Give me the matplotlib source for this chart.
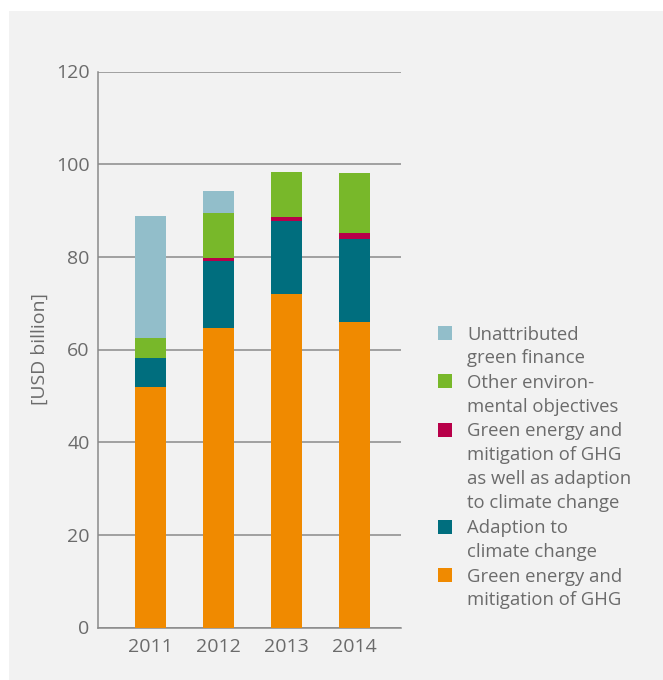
import numpy as np
import matplotlib
matplotlib.use("Agg")
import matplotlib.pyplot as plt
from matplotlib.patches import Rectangle

plt.rcParams["font.family"] = ["Open Sans", "DejaVu Sans"]

years = ["2011", "2012", "2013", "2014"]

# USD billion per category, stacked bottom to top
green_energy = [51.9, 64.6, 72.0, 65.9]
adaption = [6.3, 14.4, 15.7, 18.0]
energy_and_adaption = [0.0, 0.8, 0.9, 1.3]
other_env = [4.3, 9.7, 9.7, 12.9]
unattributed = [26.3, 4.7, 0.0, 0.0]

series = [green_energy, adaption, energy_and_adaption, other_env, unattributed]
colors = ["#F08A00", "#006E7E", "#B80049", "#78B82A", "#92BECA"]

# legend entries, top to bottom
legend_labels = [
    "Unattributed\ngreen finance",
    "Other environ-\nmental objectives",
    "Green energy and\nmitigation of GHG\nas well as adaption\nto climate change",
    "Adaption to\nclimate change",
    "Green energy and\nmitigation of GHG",
]
legend_colors = colors[::-1]

text_color = "#6b6b6b"
W, H = 663, 680

fig = plt.figure(figsize=(W / 100, H / 100), dpi=100, facecolor="white")
fig.patches.append(Rectangle((9 / W, 0), 1, 1 - 11 / H, transform=fig.transFigure,
                             facecolor="#F2F2F2", edgecolor="none", zorder=-10))

ax = fig.add_axes([98 / W, 52.5 / H, 303 / W, 556 / H])
ax.set_facecolor("none")

x = np.arange(len(years))
bottom = np.zeros(len(years))
for vals, c in zip(series, colors):
    ax.bar(x, vals, width=0.456, bottom=bottom, color=c, zorder=3)
    bottom += np.array(vals)

ax.set_xlim(-0.772, 3.684)
ax.set_ylim(0, 120)
ax.set_yticks(range(0, 121, 20))
ax.set_xticks(x)
ax.set_xticklabels(years)
ax.yaxis.grid(True, color="#8a8a8a", linewidth=1.1, zorder=0)

for side in ["top", "right"]:
    ax.spines[side].set_visible(False)
for side in ["left", "bottom"]:
    ax.spines[side].set_color("#8a8a8a")
    ax.spines[side].set_linewidth(1.1)

ax.tick_params(axis="both", length=0, labelsize=14, colors=text_color)
ax.tick_params(axis="y", pad=6)
ax.tick_params(axis="x", pad=7.5)

fig.text(40 / W, 1 - 349 / H, "[USD billion]", rotation=90, ha="center", va="center",
         fontsize=14, color=text_color)

# legend drawn by hand so the wrapped lines sit like the source layout
line_h = 24.2
line_idx = 0
for label, c in zip(legend_labels, legend_colors):
    yc = 333 + line_idx * line_h
    fig.patches.append(Rectangle((438 / W, 1 - (yc + 7) / H), 14 / W, 14 / H,
                                 transform=fig.transFigure, facecolor=c, edgecolor="none"))
    fig.text(467 / W, 1 - (yc - 7.5) / H, label, ha="left", va="top", fontsize=13.3,
             color=text_color, linespacing=1.42)
    line_idx += label.count("\n") + 1

fig.savefig("out.png", dpi=100, facecolor=fig.get_facecolor())
